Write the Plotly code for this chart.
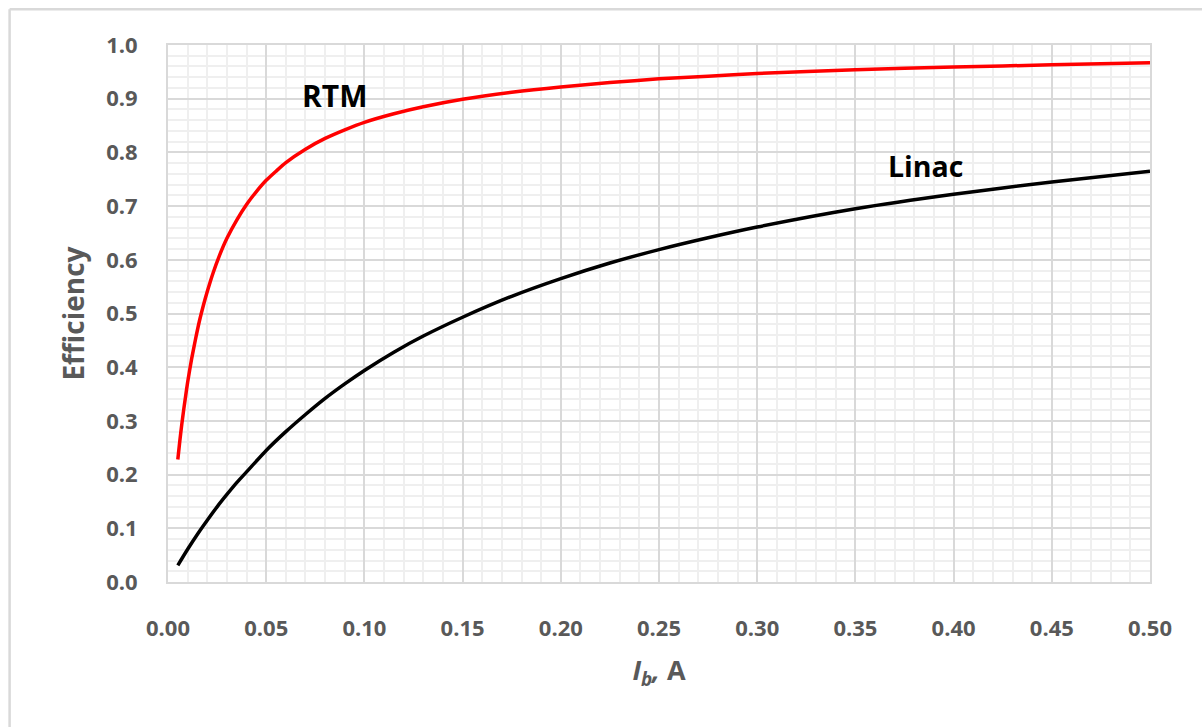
import plotly.graph_objects as go

# Beam current I_b (A) and efficiency for each accelerator type
rtm_current = [0.005, 0.006, 0.007, 0.008, 0.009, 0.010, 0.012, 0.014, 0.016, 0.018,
               0.020, 0.023, 0.026, 0.030, 0.035, 0.040, 0.045, 0.050, 0.055, 0.060,
               0.070, 0.080, 0.090, 0.100, 0.115, 0.130, 0.150, 0.175, 0.200, 0.225,
               0.250, 0.275, 0.300, 0.350, 0.400, 0.450, 0.500]
rtm_efficiency = [0.228, 0.262, 0.293, 0.321, 0.347, 0.372, 0.415, 0.452, 0.486, 0.515,
                  0.541, 0.576, 0.606, 0.640, 0.674, 0.703, 0.727, 0.748, 0.765, 0.781,
                  0.806, 0.826, 0.842, 0.856, 0.872, 0.885, 0.899, 0.912, 0.922, 0.930,
                  0.937, 0.942, 0.947, 0.954, 0.959, 0.963, 0.967]

linac_current = [0.005, 0.010, 0.015, 0.020, 0.025, 0.030, 0.035, 0.040, 0.050, 0.060,
                 0.070, 0.080, 0.090, 0.100, 0.115, 0.130, 0.150, 0.175, 0.200, 0.225,
                 0.250, 0.275, 0.300, 0.350, 0.400, 0.450, 0.500]
linac_efficiency = [0.031, 0.061, 0.089, 0.115, 0.140, 0.163, 0.185, 0.205, 0.245, 0.280,
                    0.312, 0.342, 0.369, 0.394, 0.428, 0.458, 0.493, 0.532, 0.565, 0.594,
                    0.619, 0.641, 0.661, 0.695, 0.722, 0.745, 0.765]

x_ticks = [0.00, 0.05, 0.10, 0.15, 0.20, 0.25, 0.30, 0.35, 0.40, 0.45, 0.50]
y_ticks = [0.0, 0.1, 0.2, 0.3, 0.4, 0.5, 0.6, 0.7, 0.8, 0.9, 1.0]

FONT = "Open Sans"
GRAY = "#595959"
MAJOR = "#d9d9d9"
MINOR = "#efefef"

fig = go.Figure()
fig.add_trace(go.Scatter(x=rtm_current, y=rtm_efficiency, mode="lines",
                         line=dict(color="#ff0000", width=3.5, shape="spline", smoothing=0.6),
                         name="RTM", showlegend=False))
fig.add_trace(go.Scatter(x=linac_current, y=linac_efficiency, mode="lines",
                         line=dict(color="#000000", width=3.5, shape="spline", smoothing=0.6),
                         name="Linac", showlegend=False))

fig.update_layout(
    width=1202, height=727,
    margin=dict(l=168, r=52, t=45, b=145),
    paper_bgcolor="white", plot_bgcolor="white",
    font=dict(family=FONT, color=GRAY),
    xaxis=dict(
        range=[0, 0.5], tickvals=x_ticks, tickformat=".2f",
        tickfont=dict(family=FONT, size=22, color=GRAY, weight="bold"),
        ticks="", ticklabelstandoff=26,
        showgrid=True, gridcolor=MAJOR, gridwidth=2,
        minor=dict(dtick=0.01, showgrid=True, gridcolor=MINOR, gridwidth=2),
        showline=True, linecolor=MAJOR, linewidth=2, mirror=True,
        zeroline=False,
        title=dict(text="<i>I<sub>b</sub>,</i> A", standoff=20,
                   font=dict(family=FONT, size=27, color=GRAY, weight="bold")),
    ),
    yaxis=dict(
        range=[0, 1], tickvals=y_ticks, tickformat=".1f",
        tickfont=dict(family=FONT, size=22, color=GRAY, weight="bold"),
        ticks="", ticklabelstandoff=24,
        showgrid=True, gridcolor=MAJOR, gridwidth=2,
        minor=dict(dtick=0.02, showgrid=True, gridcolor=MINOR, gridwidth=2),
        showline=True, linecolor=MAJOR, linewidth=2, mirror=True,
        zeroline=False,
        title=dict(text="Efficiency", standoff=13,
                   font=dict(family=FONT, size=28, color=GRAY, weight="bold")),
    ),
    annotations=[
        dict(x=0.085, y=0.906, xref="x", yref="y", text="<b>RTM</b>", showarrow=False,
             font=dict(family=FONT, size=30, color="#000000")),
        dict(x=0.3856, y=0.774, xref="x", yref="y", text="<b>Linac</b>", showarrow=False,
             font=dict(family=FONT, size=28.5, color="#000000")),
    ],
    shapes=[
        # chart frame (left and top edges)
        dict(type="line", xref="paper", yref="paper", x0=-0.1613, x1=-0.1613,
             y0=1.0665, y1=-0.30, line=dict(color="#d9d9d9", width=2.5)),
        dict(type="line", xref="paper", yref="paper", x0=-0.1613, x1=1.08,
             y0=1.0665, y1=1.0665, line=dict(color="#d9d9d9", width=2.5)),
    ],
)

fig.write_html("out.html")
